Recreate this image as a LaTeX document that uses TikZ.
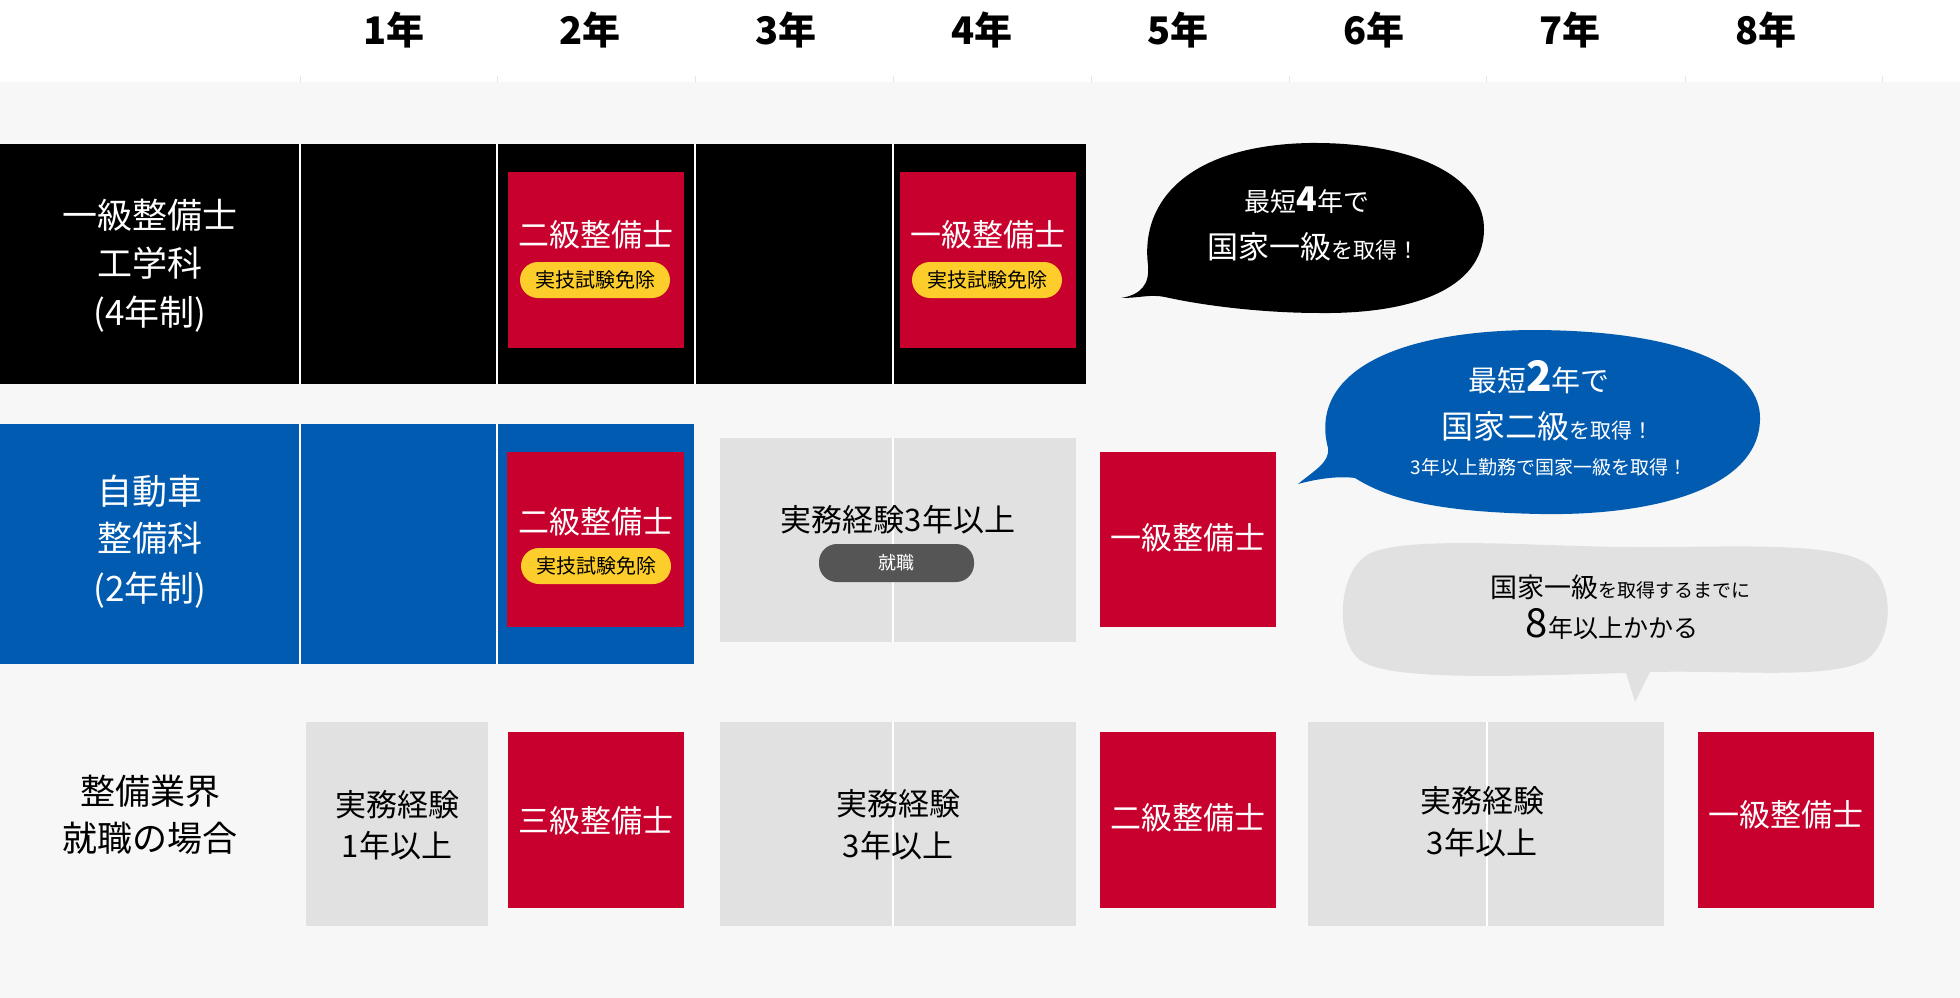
\documentclass[tikz,border=0pt]{standalone}
\usepackage{fontspec}
\setmainfont{Noto Sans CJK JP}
\newcommand\fsz[1]{\fontsize{#1}{#1}\selectfont}
\definecolor{bgc}{HTML}{F7F7F7}
\definecolor{bluec}{HTML}{005BB1}
\definecolor{redc}{HTML}{C8002D}
\definecolor{yelc}{HTML}{FDCD2B}
\definecolor{grayc}{HTML}{E1E1E1}
\definecolor{pillg}{HTML}{555555}
\definecolor{tickc}{HTML}{E6E6E6}
\begin{document}
\begin{tikzpicture}[x=1pt,y=-1pt,
  txt/.style={inner sep=0,outer sep=0,anchor=base},
  wtxt/.style={txt,text=white},
  sep/.style={draw=white,line width=2pt},
  redfill/.style={fill=redc},
  grayfill/.style={fill=grayc},
  pillbox/.style={rounded corners=18pt}]
\useasboundingbox (0,0) rectangle (1960,998);
\fill[white] (0,0) rectangle (1960,82);
\fill[bgc] (0,82) rectangle (1960,998);
\foreach \x in {300,497,695,893,1091,1289,1486,1685,1882} \draw[tickc,line width=1pt] (\x,76) -- (\x,82);
% header
\foreach \i in {1,...,8} \node[txt,font=\bfseries\fsz{38}] (y\i) at ({394+196*(\i-1)},45) {\i 年};
% ---- row 1
\fill[black] (0,144) rectangle (1086,384);
\foreach \x in {300,497,695,893} \draw[sep] (\x,144) -- (\x,384);
\node[wtxt,font=\fsz{35}] (l1a) at (150,228) {一級整備士};
\node[wtxt,font=\fsz{35}] (l1b) at (150,276) {工学科};
\node[wtxt,font=\fsz{35}] (l1c) at (150,325) {(4年制)};
\fill[redfill] (508,172) rectangle (684,348);
\fill[redfill] (900,172) rectangle (1076,348);
\fill[yelc,pillbox] (520,262) rectangle (670,298);
\fill[yelc,pillbox] (912,262) rectangle (1062,298);
\node[wtxt,font=\fsz{31}] (r12) at (596,246) {二級整備士};
\node[wtxt,font=\fsz{31}] (r14) at (988,246) {一級整備士};
\node[txt,font=\fsz{20}] (p12) at (595,287.5) {実技試験免除};
\node[txt,font=\fsz{20}] (p14) at (987,287.5) {実技試験免除};
% ---- row 2
\fill[bluec] (0,424) rectangle (694,664);
\foreach \x in {300,497} \draw[sep] (\x,424) -- (\x,664);
\node[wtxt,font=\fsz{35}] (l2a) at (150,504) {自動車};
\node[wtxt,font=\fsz{35}] (l2b) at (150,551) {整備科};
\node[wtxt,font=\fsz{35}] (l2c) at (150,601) {(2年制)};
\fill[redfill] (507,452) rectangle (684,627);
\fill[yelc,pillbox] (521,548) rectangle (671,584);
\node[wtxt,font=\fsz{31}] (r22) at (596,533) {二級整備士};
\node[txt,font=\fsz{20}] (p22) at (596,573.5) {実技試験免除};
\fill[grayfill] (720,438) rectangle (1076,642);
\draw[sep] (893,438) -- (893,642);
\node[txt,font=\fsz{31}] (g23) at (898,531) {実務経験3年以上};
\fill[pillg,pillbox] (819,544) rectangle (974,582);
\node[wtxt,font=\fsz{18}] (p23) at (896.5,569.5) {就職};
\fill[redfill] (1100,452) rectangle (1276,627);
\node[wtxt,font=\fsz{31}] (r25) at (1188,549) {一級整備士};
% ---- row 3
\node[txt,font=\fsz{35}] (l3a) at (150,804) {整備業界};
\node[txt,font=\fsz{35}] (l3b) at (150,851) {就職の場合};
\fill[grayfill] (306,722) rectangle (488,926);
\node[txt,font=\fsz{31}] (g31a) at (397,816) {実務経験};
\node[txt,font=\fsz{31}] (g31b) at (397,857) {1年以上};
\fill[redfill] (508,732) rectangle (684,908);
\node[wtxt,font=\fsz{31}] (r32) at (596,832) {三級整備士};
\fill[grayfill] (720,722) rectangle (1076,926);
\draw[sep] (893,722) -- (893,926);
\node[txt,font=\fsz{31}] (g33a) at (898,815) {実務経験};
\node[txt,font=\fsz{31}] (g33b) at (898,857) {3年以上};
\fill[redfill] (1100,732) rectangle (1276,908);
\node[wtxt,font=\fsz{31}] (r35) at (1188,829) {二級整備士};
\fill[grayfill] (1308,722) rectangle (1664,926);
\draw[sep] (1487,722) -- (1487,926);
\node[txt,font=\fsz{31}] (g36a) at (1482,812) {実務経験};
\node[txt,font=\fsz{31}] (g36b) at (1482,854) {3年以上};
\fill[redfill] (1698,732) rectangle (1874,908);
\node[wtxt,font=\fsz{31}] (r38) at (1786,826) {一級整備士};
% ---- bubbles
\fill[black] (1121,298) .. controls (1140,295) and (1150,285) .. (1148,265)
  .. controls (1140,200) and (1190,145) .. (1310,143)
  .. controls (1420,142) and (1485,180) .. (1484,230)
  .. controls (1483,290) and (1410,314) .. (1320,313)
  .. controls (1260,313) and (1200,305) .. (1165,297)
  .. controls (1150,294) and (1140,298) .. (1121,298) -- cycle;
\node[wtxt] (b1a) at (1307,211) {{\fsz{26}最短}{\bfseries\fsz{34}4}{\fsz{26}年で}};
\node[wtxt] (b1b) at (1313,258) {{\fsz{31}国家一級}{\fsz{22}を取得！}};
\fill[bluec] (1298,484) .. controls (1315,470) and (1330,462) .. (1328,448)
  .. controls (1310,380) and (1380,332) .. (1530,330)
  .. controls (1690,330) and (1762,370) .. (1760,420)
  .. controls (1758,490) and (1650,516) .. (1540,514)
  .. controls (1440,512) and (1390,500) .. (1355,478)
  .. controls (1340,476) and (1320,478) .. (1298,484) -- cycle;
\node[wtxt] (b2a) at (1539,391) {{\fsz{29}最短}{\bfseries\fsz{42}2}{\fsz{29}年で}};
\node[wtxt] (b2b) at (1547,438) {{\fsz{32}国家二級}{\fsz{21}を取得！}};
\node[wtxt] (b2c) at (1549,474) {{\fsz{19}3年以上勤務で国家一級を取得！}};
\fill[grayc] (1626,673) -- (1635,702) -- (1650,672)
  .. controls (1740,670) and (1830,680) .. (1866,660)
  .. controls (1895,640) and (1895,580) .. (1866,563)
  .. controls (1830,540) and (1720,548) .. (1626,547)
  .. controls (1530,546) and (1400,535) .. (1367,555)
  .. controls (1335,575) and (1335,650) .. (1365,663)
  .. controls (1400,682) and (1540,675) .. (1626,673) -- cycle;
\node[txt] (b3a) at (1620,597) {{\fsz{27}国家一級}{\fsz{19}を取得するまでに}};
\node[txt] (b3b) at (1612,637) {{\fsz{40}8}{\fsz{25}年以上かかる}};
\end{tikzpicture}
\end{document}
